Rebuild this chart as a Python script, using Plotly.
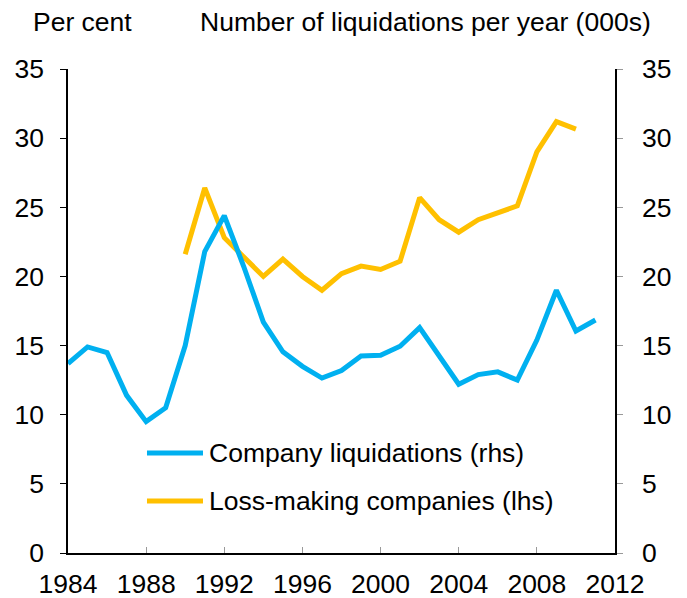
import plotly.graph_objects as go

years_liq = list(range(1984, 2012))
company_liquidations = [13.7, 14.9, 14.5, 11.4, 9.5, 10.5, 15.0, 21.8, 24.4, 20.7,
                        16.7, 14.55, 13.5, 12.65, 13.2, 14.25, 14.3, 14.95, 16.3, 14.2,
                        12.2, 12.9, 13.1, 12.5, 15.4, 19.0, 16.05, 16.85]

years_loss = list(range(1990, 2011))
loss_making = [21.6, 26.4, 22.8, 21.4, 20.0, 21.25, 20.0, 19.0, 20.2, 20.75,
               20.5, 21.1, 25.7, 24.1, 23.2, 24.1, 24.6, 25.1, 29.0, 31.2, 30.65]

x_ticks = list(range(1984, 2013, 4))
y_ticks = list(range(0, 36, 5))

BLUE = "#00B0F0"
GOLD = "#FFC000"
FONT = "Liberation Sans, Arial, sans-serif"
FS = 26.5

fig = go.Figure()
fig.add_trace(go.Scatter(x=years_loss, y=loss_making, mode="lines", yaxis="y",
                         line=dict(color=GOLD, width=5), name="Loss-making companies (lhs)"))
fig.add_trace(go.Scatter(x=years_liq, y=company_liquidations, mode="lines", yaxis="y2",
                         line=dict(color=BLUE, width=5), name="Company liquidations (rhs)"))

# page body has an 8px margin, so the figure is sized to fit the window
fig.update_layout(
    width=679, height=590,
    margin=dict(l=60, r=72, t=61, b=45),
    paper_bgcolor="white", plot_bgcolor="white",
    showlegend=False,
    font=dict(family=FONT, size=FS, color="black"),
    xaxis=dict(range=[1984, 2012], tickvals=x_ticks, ticks="inside", ticklen=6,
               tickcolor="#999999", showline=True, linecolor="black", linewidth=1.5,
               showgrid=False, zeroline=False, ticklabelstandoff=6, automargin=False,
               tickfont=dict(family=FONT, size=FS)),
    yaxis=dict(range=[0, 35], tickvals=y_ticks, ticks="outside", ticklen=6,
               tickcolor="black", showline=True, linecolor="black", linewidth=1.5,
               showgrid=False, zeroline=False, ticklabelstandoff=11, automargin=False,
               tickfont=dict(family=FONT, size=FS)),
    yaxis2=dict(range=[0, 35], tickvals=y_ticks, ticks="outside", ticklen=6,
                tickcolor="#999999", showline=True, linecolor="black", linewidth=1.5,
                showgrid=False, zeroline=False, overlaying="y", side="right",
                ticklabelstandoff=14, automargin=False, tickfont=dict(family=FONT, size=FS)),
)

fig.add_annotation(text="Per cent", xref="paper", yref="paper", x=0.026, y=1.097,
                   xanchor="center", yanchor="middle", showarrow=False,
                   font=dict(family=FONT, size=FS))
fig.add_annotation(text="Number of liquidations per year (000s)", xref="paper", yref="paper",
                   x=0.654, y=1.097, xanchor="center", yanchor="middle", showarrow=False,
                   font=dict(family=FONT, size=FS))

legend_items = [("Company liquidations (rhs)", BLUE, 0.2066),
                ("Loss-making companies (lhs)", GOLD, 0.1074)]
for label, color, ly in legend_items:
    fig.add_shape(type="line", xref="paper", yref="paper", x0=0.1444, x1=0.2468,
                  y0=ly, y1=ly, line=dict(color=color, width=5))
    fig.add_annotation(text=label, xref="paper", yref="paper", x=0.254, y=ly,
                       xanchor="left", yanchor="middle", showarrow=False,
                       font=dict(family=FONT, size=FS))

fig.write_html("out.html")
